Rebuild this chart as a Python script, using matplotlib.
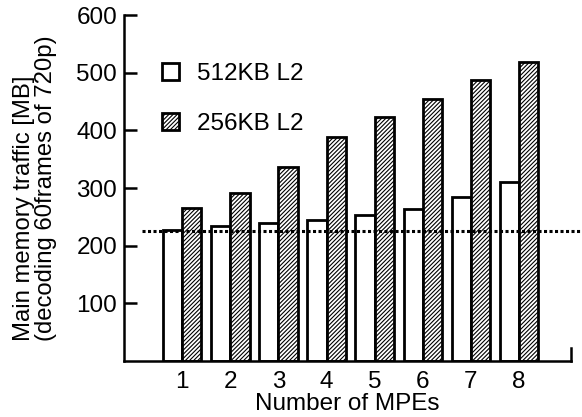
import matplotlib
matplotlib.use("Agg")
import matplotlib.pyplot as plt
import numpy as np

plt.rcParams['font.family'] = ['Liberation Sans', 'DejaVu Sans']
plt.rcParams['hatch.linewidth'] = 0.8

mpes = [1, 2, 3, 4, 5, 6, 7, 8]
l2_512 = [228, 235, 239, 244, 254, 264, 284, 310]
l2_256 = [266, 292, 336, 388, 424, 455, 487, 519]
baseline = 226
yticks = [100, 200, 300, 400, 500, 600]

FS = 17.5

fig = plt.figure(figsize=(5.82, 4.17), dpi=100)
ax = fig.add_axes([0.213, 0.134, 0.768, 0.830])

x = np.array(mpes)
w = 0.40
ax.bar(x - w / 2, l2_512, width=w, facecolor='white', edgecolor='black',
       linewidth=2.0, label='512KB L2')
ax.bar(x + w / 2, l2_256, width=w, facecolor='white', edgecolor='black',
       linewidth=2.0, hatch='////////', label='256KB L2')

ax.axhline(baseline, xmin=0.04, xmax=1.03, color='black', linestyle=(0, (1, 0.8)),
           linewidth=2.2, clip_on=False)

ax.set_xlim(-0.21, 9.08)
ax.set_ylim(0, 600)
ax.set_xticks(mpes)
ax.set_xticklabels([str(m) for m in mpes])
ax.set_yticks(yticks)
ax.set_yticklabels([str(t) for t in yticks])

for s in ['top', 'right']:
    ax.spines[s].set_visible(False)
for s in ['left', 'bottom']:
    ax.spines[s].set_linewidth(1.8)

ax.axvline(9.08, ymin=0, ymax=0.037, color='black', linewidth=1.8, clip_on=False)

ax.tick_params(axis='y', direction='in', length=9, width=1.8, labelsize=FS, pad=5)
ax.tick_params(axis='x', length=0, labelsize=FS, pad=7)

ax.set_xlabel('Number of MPEs', fontsize=FS, labelpad=0)
ax.set_ylabel('Main memory traffic [MB]\n(decoding 60frames of 720p)', fontsize=17.2,
              labelpad=14, linespacing=1.0, multialignment='left')

leg = ax.legend(loc='upper left', bbox_to_anchor=(0.085, 0.86), frameon=False,
                fontsize=FS, handlelength=0.7, handleheight=0.7, labelspacing=1.15,
                handletextpad=0.75, borderaxespad=0, borderpad=0)

fig.savefig('out.png', dpi=100)
